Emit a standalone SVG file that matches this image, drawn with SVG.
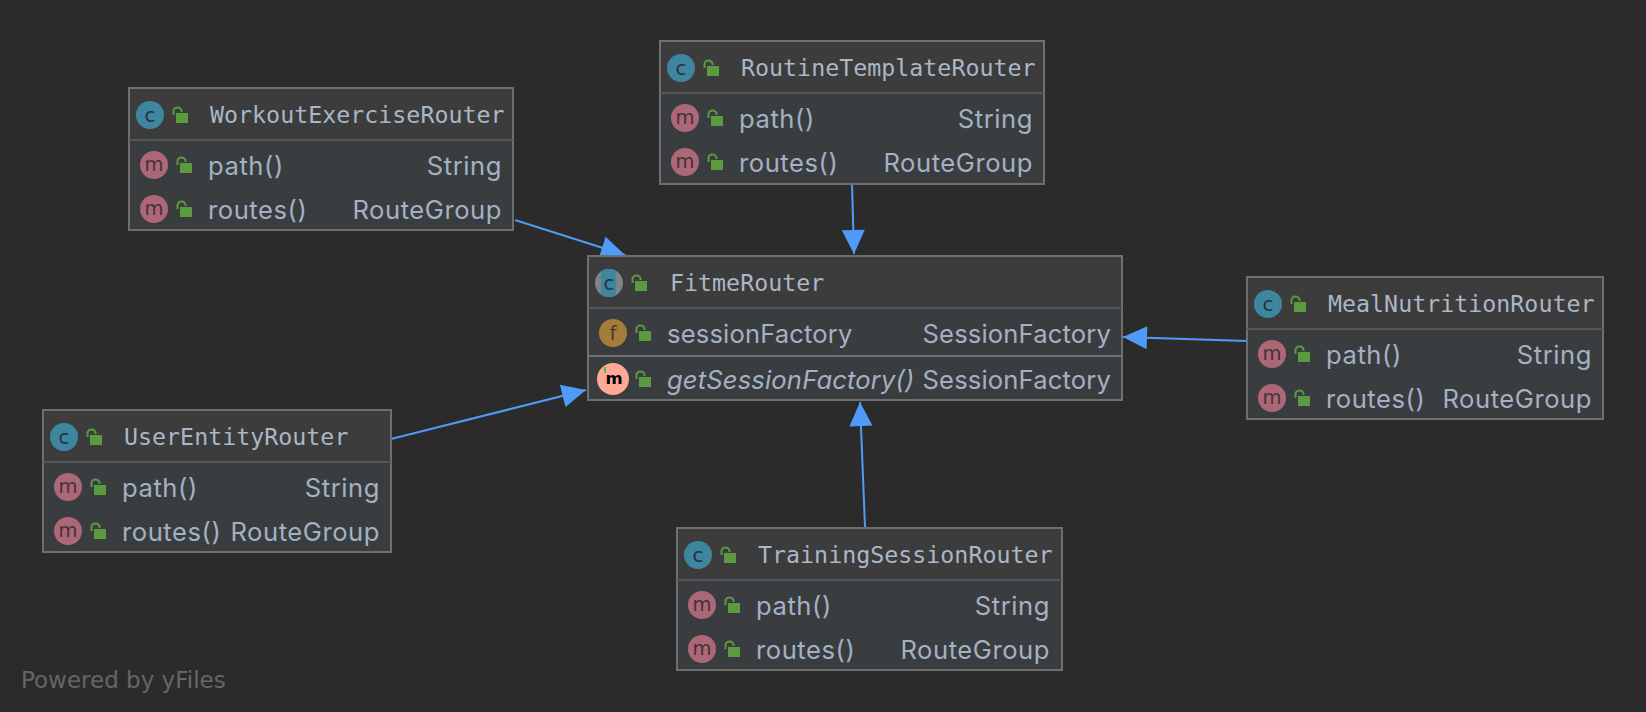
<svg xmlns="http://www.w3.org/2000/svg" width="1646" height="712" viewBox="0 0 1646 712">
<style>
.box{fill:#3a3d40;stroke:#6f6f6f;stroke-width:2}
.head{fill:#3c3c3c}
.sep{stroke:#565656;stroke-width:2}
.sep2{stroke:#6f6f6f;stroke-width:2}
.title{font-family:"DejaVu Sans Mono","Liberation Mono",monospace;font-size:23.3px;fill:#a9b7c6}
.mem{font-family:Inter,"Liberation Sans",sans-serif;font-size:25.6px;letter-spacing:.15px;fill:#a3b1c2}
.w{letter-spacing:.55px}
.r{text-anchor:end}
.it{font-style:italic}
.ic{font-family:"DejaVu Sans",sans-serif;font-size:20px;text-anchor:middle;fill:#22333b}
.imem{fill:#45323a;font-size:19.500px}
.conn{fill:none;stroke:#4f9bf7;stroke-width:2;marker-end:url(#tri)}
.foot{font-family:"DejaVu Sans",sans-serif;font-size:23px;fill:#666666}
</style>
<defs>
<marker id="tri" markerUnits="userSpaceOnUse" markerWidth="26" markerHeight="26" refX="25" refY="13" orient="auto"><path d="M1 1.500L25 13L1 24.500Z" fill="#4f9bf7"/></marker>
<clipPath id="disc"><circle cx="21" cy="27" r="14"/></clipPath>
<g id="lock"><path d="M1.500 8V4a4 3.500 0 0 1 8 0v1" fill="none" stroke="#5b9a3f" stroke-width="2"/><rect x="4" y="6" width="12" height="10" fill="#5b9a3f"/></g>
<g id="c"><circle r="14" fill="#3e86a0"/><text class="ic" y="7">c</text></g>
<g id="m"><circle r="14" fill="#ad6878"/><text class="ic imem" y="6">m</text></g>
</defs>
<rect width="1646" height="712" fill="#2b2b2b"/>
<g id="connectors">
<path class="conn" d="M515 220L625 255"/>
<path class="conn" d="M852 184L854 254"/>
<path class="conn" d="M1247 341L1123 337"/>
<path class="conn" d="M391 439L586 390"/>
<path class="conn" d="M865 527L860 402"/>
</g>
<g id="FitmeRouter" transform="translate(588 256)">
<rect class="box" width="534" height="144"/><rect class="head" x="1" y="1" width="532" height="51"/>
<line class="sep" x1="0" y1="52" x2="534" y2="52"/><line class="sep2" x1="0" y1="100" x2="534" y2="100"/>
<circle cx="21" cy="27" r="14" fill="#7f8488"/><rect x="13" y="13" width="15" height="28" fill="#3e86a0" clip-path="url(#disc)"/><text class="ic" x="21" y="34">c</text>
<use href="#lock" x="43" y="19"/>
<text class="title" x="82" y="34.500">FitmeRouter</text>
<circle cx="25" cy="77" r="14" fill="#a67c3a"/><text class="ic" x="25" y="84" style="fill:#4a3a22">f</text>
<use href="#lock" x="47" y="69"/>
<text class="mem" x="79" y="87">sessionFactory</text><text class="mem r" x="523" y="87">SessionFactory</text>
<circle cx="25" cy="123" r="16" fill="#ffa896"/><text x="26" y="127.500" font-family="DejaVu Sans,sans-serif" font-weight="700" font-size="16.500" text-anchor="middle" fill="#000">m</text>
<rect x="16" y="111" width="2" height="6" fill="#4ec04e"/>
<use href="#lock" x="47" y="115"/>
<text class="mem it" x="79" y="133">getSessionFactory()</text><text class="mem r" x="523" y="133">SessionFactory</text>
</g>
<g id="WorkoutExerciseRouter" transform="translate(129 88)">
<rect class="box" width="384" height="142"/><rect class="head" x="1" y="1" width="382" height="51"/><line class="sep" x1="0" y1="52" x2="384" y2="52"/>
<use href="#c" x="21" y="27"/><use href="#lock" x="43" y="19"/>
<text class="title" x="81" y="34.500">WorkoutExerciseRouter</text>
<use href="#m" x="25" y="77"/><use href="#lock" x="47" y="69"/><text class="mem w" x="79" y="87">path()</text><text class="mem r w" x="373" y="87">String</text>
<use href="#m" x="25" y="121"/><use href="#lock" x="47" y="113"/><text class="mem w" x="79" y="131">routes()</text><text class="mem r w" x="373" y="131">RouteGroup</text>
</g>
<g id="RoutineTemplateRouter" transform="translate(660 41)">
<rect class="box" width="384" height="143"/><rect class="head" x="1" y="1" width="382" height="51"/><line class="sep" x1="0" y1="52" x2="384" y2="52"/>
<use href="#c" x="21" y="27"/><use href="#lock" x="43" y="19"/>
<text class="title" x="81" y="34.500">RoutineTemplateRouter</text>
<use href="#m" x="25" y="77"/><use href="#lock" x="47" y="69"/><text class="mem w" x="79" y="87">path()</text><text class="mem r w" x="373" y="87">String</text>
<use href="#m" x="25" y="121"/><use href="#lock" x="47" y="113"/><text class="mem w" x="79" y="131">routes()</text><text class="mem r w" x="373" y="131">RouteGroup</text>
</g>
<g id="MealNutritionRouter" transform="translate(1247 277)">
<rect class="box" width="356" height="142"/><rect class="head" x="1" y="1" width="354" height="51"/><line class="sep" x1="0" y1="52" x2="356" y2="52"/>
<use href="#c" x="21" y="27"/><use href="#lock" x="43" y="19"/>
<text class="title" x="81" y="34.500">MealNutritionRouter</text>
<use href="#m" x="25" y="77"/><use href="#lock" x="47" y="69"/><text class="mem w" x="79" y="87">path()</text><text class="mem r w" x="345" y="87">String</text>
<use href="#m" x="25" y="121"/><use href="#lock" x="47" y="113"/><text class="mem w" x="79" y="131">routes()</text><text class="mem r w" x="345" y="131">RouteGroup</text>
</g>
<g id="UserEntityRouter" transform="translate(43 410)">
<rect class="box" width="348" height="142"/><rect class="head" x="1" y="1" width="346" height="51"/><line class="sep" x1="0" y1="52" x2="348" y2="52"/>
<use href="#c" x="21" y="27"/><use href="#lock" x="43" y="19"/>
<text class="title" x="81" y="34.500">UserEntityRouter</text>
<use href="#m" x="25" y="77"/><use href="#lock" x="47" y="69"/><text class="mem w" x="79" y="87">path()</text><text class="mem r w" x="337" y="87">String</text>
<use href="#m" x="25" y="121"/><use href="#lock" x="47" y="113"/><text class="mem w" x="79" y="131">routes()</text><text class="mem r w" x="337" y="131">RouteGroup</text>
</g>
<g id="TrainingSessionRouter" transform="translate(677 528)">
<rect class="box" width="385" height="142"/><rect class="head" x="1" y="1" width="383" height="51"/><line class="sep" x1="0" y1="52" x2="385" y2="52"/>
<use href="#c" x="21" y="27"/><use href="#lock" x="43" y="19"/>
<text class="title" x="81" y="34.500">TrainingSessionRouter</text>
<use href="#m" x="25" y="77"/><use href="#lock" x="47" y="69"/><text class="mem w" x="79" y="87">path()</text><text class="mem r w" x="373" y="87">String</text>
<use href="#m" x="25" y="121"/><use href="#lock" x="47" y="113"/><text class="mem w" x="79" y="131">routes()</text><text class="mem r w" x="373" y="131">RouteGroup</text>
</g>
<text class="foot" x="21" y="688">Powered by yFiles</text>
</svg>
